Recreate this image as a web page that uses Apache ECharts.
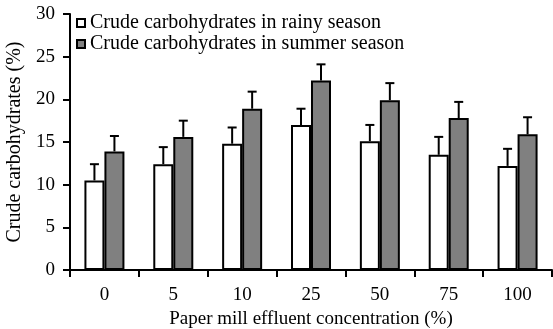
<!DOCTYPE html>
<html>
<head>
<meta charset="utf-8">
<script src="https://cdn.jsdelivr.net/npm/echarts@6/dist/echarts.min.js"></script>
<style>
  html, body { margin: 0; padding: 0; background: #fff; }
  #chart { width: 553px; height: 329px; }
</style>
</head>
<body>
<div id="chart"></div>
<script>
// Data
var categories = ['0', '5', '10', '25', '50', '75', '100'];
var rainyValues = [10.5, 12.4, 14.8, 17.0, 15.1, 13.5, 12.2];
var rainyErrors = [1.9, 2.0, 1.9, 1.9, 1.9, 2.1, 2.0];
var summerValues = [13.9, 15.6, 18.9, 22.2, 19.9, 17.8, 15.9];
var summerErrors = [1.8, 1.9, 2.0, 1.9, 2.0, 1.9, 2.0];

var chartDom = document.getElementById('chart');
var myChart = echarts.init(chartDom);
var font = '"Liberation Serif", "DejaVu Serif", serif';

// error bar data: [category index, value, value + error]
function errorData(values, errors) {
    return values.map(function (v, i) {
        return [i, v, v + errors[i]];
    });
}

function errorBar(offset) {
    return function (params, api) {
        var base = api.coord([api.value(0), api.value(1)]);
        var top = api.coord([api.value(0), api.value(2)]);
        var x = base[0] + offset;
        var style = { stroke: '#000', lineWidth: 2 };
        return {
            type: 'group',
            children: [
                { type: 'line', shape: { x1: x, y1: base[1], x2: x, y2: top[1] }, style: style },
                { type: 'line', shape: { x1: x - 4.5, y1: top[1], x2: x + 4.5, y2: top[1] }, style: style }
            ]
        };
    };
}

var option = {
    animation: false,
    textStyle: { fontFamily: font },
    grid: { left: 70, right: 1, top: 14, bottom: 59, outerBoundsMode: 'none', containLabel: false },
    legend: {
        left: 76,
        top: 13,
        padding: 0,
        orient: 'vertical',
        itemGap: 1,
        itemWidth: 8,
        itemHeight: 8,
        textStyle: { fontFamily: font, fontSize: 20, color: '#000' },
        data: [
            { name: 'Crude carbohydrates in rainy season', icon: 'rect' },
            { name: 'Crude carbohydrates in summer season', icon: 'rect' }
        ]
    },
    xAxis: {
        type: 'category',
        data: categories,
        name: 'Paper mill effluent concentration (%)',
        nameLocation: 'middle',
        nameGap: 40,
        nameTextStyle: { fontFamily: font, fontSize: 19, color: '#000' },
        axisLine: { lineStyle: { color: '#000', width: 2 } },
        axisTick: { show: true, inside: false, length: 7, lineStyle: { color: '#000', width: 2 } },
        axisLabel: { fontFamily: font, fontSize: 19, color: '#000', margin: 16 }
    },
    yAxis: {
        type: 'value',
        min: 0,
        max: 30,
        interval: 5,
        name: 'Crude carbohydrates (%)',
        nameLocation: 'middle',
        nameGap: 41,
        nameTextStyle: { fontFamily: font, fontSize: 20, color: '#000' },
        axisLine: { show: true, lineStyle: { color: '#000', width: 2 } },
        axisTick: { show: true, length: 7, lineStyle: { color: '#000', width: 2 } },
        axisLabel: { fontFamily: font, fontSize: 19, color: '#000', margin: 15 },
        splitLine: { show: false }
    },
    series: [
        {
            name: 'Crude carbohydrates in rainy season',
            type: 'bar',
            barWidth: 20,
            barGap: '0%',
            data: rainyValues,
            itemStyle: { color: '#fff', borderColor: '#000', borderWidth: 2 },
            z: 3
        },
        {
            name: 'Crude carbohydrates in summer season',
            type: 'bar',
            barWidth: 20,
            barGap: '0%',
            data: summerValues,
            itemStyle: { color: '#808080', borderColor: '#000', borderWidth: 2 },
            z: 3
        },
        {
            type: 'custom',
            renderItem: errorBar(-10),
            data: errorData(rainyValues, rainyErrors),
            encode: { x: 0, y: [1, 2] },
            z: 2
        },
        {
            type: 'custom',
            renderItem: errorBar(10),
            data: errorData(summerValues, summerErrors),
            encode: { x: 0, y: [1, 2] },
            z: 2
        }
    ]
};

myChart.setOption(option);
</script>
</body>
</html>
